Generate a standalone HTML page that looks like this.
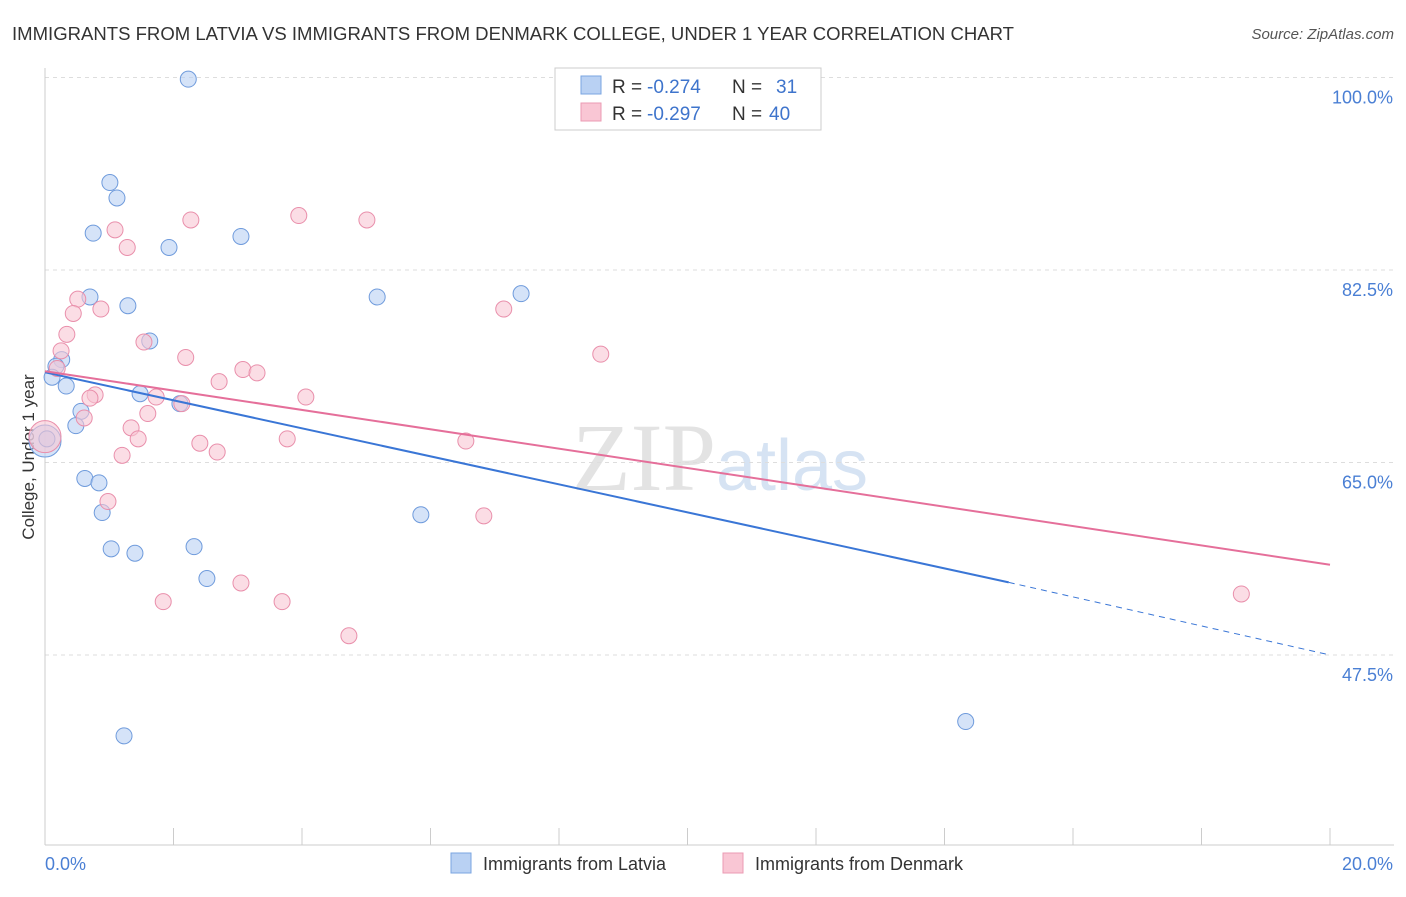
<!DOCTYPE html>
<html><head><meta charset="utf-8"><style>
body{margin:0;background:#fff;font-family:"Liberation Sans",sans-serif}
</style></head><body>
<svg width="1406" height="892" xmlns="http://www.w3.org/2000/svg" id="svg">
<text x="12" y="40" font-size="18" fill="#333" textLength="1002" lengthAdjust="spacingAndGlyphs">IMMIGRANTS FROM LATVIA VS IMMIGRANTS FROM DENMARK COLLEGE, UNDER 1 YEAR CORRELATION CHART</text>
<text x="1394" y="39" font-size="15" fill="#555" font-style="italic" text-anchor="end">Source: ZipAtlas.com</text>
<text x="720" y="490" font-size="96" fill="#e3e3e3" text-anchor="middle" font-family="Liberation Serif">ZIP<tspan fill="#d6e3f3" font-family="Liberation Sans" font-size="72">atlas</tspan></text>
<g id="grid"></g>
<line x1="45" y1="68" x2="45" y2="845" stroke="#ccc"/>
<line x1="45" y1="845" x2="1394" y2="845" stroke="#ccc"/>
<text x="34" y="457" font-size="17" fill="#333" text-anchor="middle" transform="rotate(-90 34 457)">College, Under 1 year</text>
<text x="45" y="870" font-size="18" fill="#4a7fd4">0.0%</text>
<text x="1393" y="870" font-size="18" fill="#4a7fd4" text-anchor="end">20.0%</text>
<g id="marks"></g>
<g>
<rect x="555" y="68" width="266" height="62" fill="#fff" stroke="#ccc"/>
<rect x="581" y="76" width="20" height="18" fill="#b9d1f3" stroke="#7aa5e0"/>
<rect x="581" y="103" width="20" height="18" fill="#f9c6d4" stroke="#eb9bb3"/>
<text x="612" y="93" font-size="19" fill="#333">R =</text>
<text x="647" y="93" font-size="19" fill="#3e74cc">-0.274</text>
<text x="732" y="93" font-size="19" fill="#333">N =</text>
<text x="776" y="93" font-size="19" fill="#3e74cc">31</text>
<text x="612" y="120" font-size="19" fill="#333">R =</text>
<text x="647" y="120" font-size="19" fill="#3e74cc">-0.297</text>
<text x="732" y="120" font-size="19" fill="#333">N =</text>
<text x="769" y="120" font-size="19" fill="#3e74cc">40</text>
</g>
<g>
<rect x="451" y="853" width="20" height="20" fill="#b9d1f3" stroke="#7aa5e0"/>
<text x="483" y="870" font-size="18" fill="#333">Immigrants from Latvia</text>
<rect x="723" y="853" width="20" height="20" fill="#f9c6d4" stroke="#eb9bb3"/>
<text x="755" y="870" font-size="18" fill="#333">Immigrants from Denmark</text>
</g>
</svg>
<script>
const yTicks=[100,82.5,65,47.5];
const yTickLabels=["100.0%","82.5%","65.0%","47.5%"];
const xTicks=[0,2,4,6,8,10,12,14,16,18,20];
const latviaX=[2.23,1.01,1.12,0.75,1.93,3.05,0.70,1.29,5.17,7.41,1.63,0.26,0.17,0.11,0.33,1.48,2.10,0.56,0.48,0.0,0.62,0.84,0.89,5.85,1.03,1.40,2.32,2.52,1.23,14.33,0.03];
const latviaY=[99.85,90.45,89.05,85.85,84.55,85.55,80.05,79.25,80.05,80.35,76.05,74.35,73.75,72.75,71.95,71.25,70.35,69.65,68.35,66.95,63.55,63.15,60.45,60.25,57.15,56.75,57.35,54.45,40.15,41.45,67.15];
const denX=[2.27,3.95,5.01,1.09,1.28,0.51,0.44,0.87,7.14,0.34,1.54,0.25,2.19,8.65,0.19,3.08,3.30,2.71,0.78,0.70,4.06,1.73,2.13,1.60,0.61,1.34,1.45,3.77,2.41,6.55,2.68,1.20,0.0,0.98,6.83,3.05,1.84,3.69,18.62,4.73];
const denY=[87.05,87.45,87.05,86.15,84.55,79.85,78.55,78.95,78.95,76.65,75.95,75.15,74.55,74.85,73.55,73.45,73.15,72.35,71.15,70.85,70.95,70.95,70.35,69.45,69.05,68.15,67.15,67.15,66.75,66.95,65.95,65.65,67.35,61.45,60.15,54.05,52.35,52.35,53.05,49.25];
const trendX=[0,15,20];
const latviaTrendY=[73.2,54.1,47.5];
const denTrendY=[73.3,null,55.7];
const NS="http://www.w3.org/2000/svg";
const xs=v=>45+v*64.25, ys=v=>77.5+(100-v)*11;
const grid=document.getElementById('grid'), marks=document.getElementById('marks');
function mk(tag,attrs,parent){const e=document.createElementNS(NS,tag);for(const k in attrs)e.setAttribute(k,attrs[k]);parent.appendChild(e);return e;}
yTicks.forEach((t,i)=>{
 const l=mk('line',{x1:45,x2:1394,y1:ys(t),y2:ys(t),stroke:'#ddd','stroke-dasharray':'4 4'},grid);
 
 
 const tx=mk('text',{x:1393,y:ys(t)+26,'font-size':18,fill:'#4a7fd4','text-anchor':'end'},grid);
 tx.textContent=yTickLabels[i];
 
 
});
xTicks.forEach(t=>{
 const l=mk('line',{x1:xs(t),x2:xs(t),y1:828,y2:845,stroke:'#ccc'},grid);
 
 
});
latviaX.forEach((x,i)=>{
 const big=x===0;
 const c=mk('circle',{cx:xs(x),cy:ys(latviaY[i]),r:big?16:8,fill:'#b9d1f3','fill-opacity':0.6,stroke:'#6f9bdc','stroke-width':1},marks);
 
 
});
denX.forEach((x,i)=>{
 const big=x===0;
 const c=mk('circle',{cx:xs(x),cy:ys(denY[i]),r:big?16:8,fill:'#f9c6d4','fill-opacity':0.6,stroke:'#e98fab','stroke-width':1},marks);
 
 
});
let l=mk('line',{x1:xs(trendX[0]),y1:ys(latviaTrendY[0]),x2:xs(trendX[1]),y2:ys(latviaTrendY[1]),stroke:'#3a76d6','stroke-width':2},marks);


l=mk('line',{x1:xs(trendX[1]),y1:ys(latviaTrendY[1]),x2:xs(trendX[2]),y2:ys(latviaTrendY[2]),stroke:'#3a76d6','stroke-width':1,'stroke-dasharray':'6 5'},marks);


l=mk('line',{x1:xs(trendX[0]),y1:ys(denTrendY[0]),x2:xs(trendX[2]),y2:ys(denTrendY[2]),stroke:'#e56f9a','stroke-width':2},marks);


</script>
</body></html>
